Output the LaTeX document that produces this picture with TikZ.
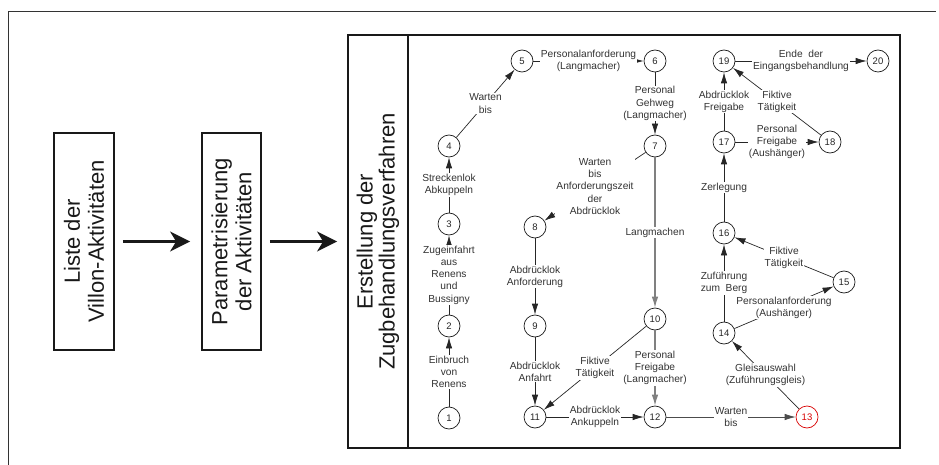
\documentclass[tikz,border=0pt]{standalone}
\usepackage{fontspec}
\setmainfont{Liberation Sans}
\usetikzlibrary{arrows.meta}
\begin{document}
\begin{tikzpicture}[x=1pt,y=-1pt,
 state/.style={circle,draw=black!90,line width=0.7pt,minimum size=22pt,inner sep=0pt,font=\fontsize{9.5}{10}\selectfont,text=black!85,fill=white},
 redstate/.style={state,draw=red!85!black,text=red!85!black},
 edge/.style={draw=black!85,line width=0.7pt,-{Latex[length=11pt,width=6.5pt]}},
 gedge/.style={edge,draw=black!50,line width=1.1pt},
 lbl/.style={midway,fill=white,inner sep=1pt,align=center,font=\fontsize{10.2}{12.2}\selectfont,text=black!80},
 bigbox/.style={draw=black!90,line width=1.8pt,inner sep=0pt,rotate=90,align=center,font=\fontsize{22}{24}\selectfont,text=black!90},
 bigarrow/.style={draw=black!90,line width=2.5pt,-{Stealth[length=20pt,width=20pt,inset=6pt]}}
]
\useasboundingbox (0,0) rectangle (939,465);
\draw[black!80,line width=0.9pt] (8,465) -- (8,11) -- (936,11);

\node[bigbox,minimum width=217pt,minimum height=60pt] (b1) at (84,241.5) {Liste der\\Villon-Aktivitäten};
\node[bigbox,minimum width=217pt,minimum height=59pt] (b2) at (231.5,241.5) {Parametrisierung\\der Aktivitäten};
\node[bigbox,font=\fontsize{22}{22}\selectfont,minimum width=413pt,minimum height=60pt] (c1) at (378,241.5) {Erstellung der\\Zugbehandlungsverfahren};
\node[draw=black!90,line width=1.8pt,minimum width=492pt,minimum height=413pt,inner sep=0pt] (c2) at (654,241.5) {};

\draw[bigarrow,shorten <=8pt,shorten >=11pt] (b1) -- (b2);
\draw[bigarrow,shorten <=8pt,shorten >=10pt] (b2) -- (c1);

\node[state] (n1) at (449,418) {1};
\node[state] (n2) at (449,326) {2};
\node[state] (n3) at (449,224) {3};
\node[state] (n4) at (449,146) {4};
\node[state] (n5) at (522,61) {5};
\node[state] (n6) at (655,61) {6};
\node[state] (n7) at (655,146) {7};
\node[state] (n8) at (535,227) {8};
\node[state] (n9) at (535,326) {9};
\node[state] (n10) at (655,319) {10};
\node[state] (n11) at (535,417) {11};
\node[state] (n12) at (655,417) {12};
\node[redstate] (n13) at (807,417) {13};
\node[state] (n14) at (724,333) {14};
\node[state] (n15) at (844,282) {15};
\node[state] (n16) at (724,233) {16};
\node[state] (n17) at (724,142) {17};
\node[state] (n18) at (830,142) {18};
\node[state] (n19) at (724,61) {19};
\node[state] (n20) at (878,61) {20};

\draw[edge] (n1) -- node[lbl]{Einbruch\\von\\Renens} (n2);
\draw[edge] (n2) -- node[lbl]{Zugeinfahrt\\aus\\Renens\\und\\Bussigny} (n3);
\draw[edge] (n3) -- node[lbl]{Streckenlok\\Abkuppeln} (n4);
\draw[edge] (n4) -- node[lbl]{Warten\\bis} (n5);
\draw[edge] (n5) -- node[lbl]{Personalanforderung\\(Langmacher)} (n6);
\draw[edge] (n6) -- node[lbl]{Personal\\Gehweg\\(Langmacher)} (n7);
\draw[edge] (n7) -- node[lbl]{Warten\\bis\\Anforderungszeit\\der\\Abdrücklok} (n8);
\draw[gedge] (n7) -- node[lbl]{Langmachen} (n10);
\draw[edge] (n8) -- node[lbl]{Abdrücklok\\Anforderung} (n9);
\draw[edge] (n9) -- node[lbl]{Abdrücklok\\Anfahrt} (n11);
\draw[edge] (n10) -- node[lbl]{Fiktive\\Tätigkeit} (n11);
\draw[gedge] (n10) -- node[lbl]{Personal\\Freigabe\\(Langmacher)} (n12);
\draw[edge] (n11) -- node[lbl]{Abdrücklok\\Ankuppeln} (n12);
\draw[edge,draw=black!70] (n12) -- node[lbl]{Warten\\bis} (n13);
\draw[edge] (n13) -- node[lbl]{Gleisauswahl\\(Zuführungsgleis)} (n14);
\draw[edge] (n14) -- node[lbl]{Personalanforderung\\(Aushänger)} (n15);
\draw[edge] (n14) -- node[lbl]{Zuführung\\zum\ \ Berg} (n16);
\draw[edge] (n15) -- node[lbl]{Fiktive\\Tätigkeit} (n16);
\draw[edge] (n16) -- node[lbl]{Zerlegung} (n17);
\draw[edge] (n17) -- node[lbl]{Personal\\Freigabe\\(Aushänger)} (n18);
\draw[edge] (n17) -- node[lbl]{Abdrücklok\\Freigabe} (n19);
\draw[edge] (n18) -- node[lbl]{Fiktive\\Tätigkeit} (n19);
\draw[edge] (n19) -- node[lbl]{Ende\ \ der\\Eingangsbehandlung} (n20);
\end{tikzpicture}
\end{document}
